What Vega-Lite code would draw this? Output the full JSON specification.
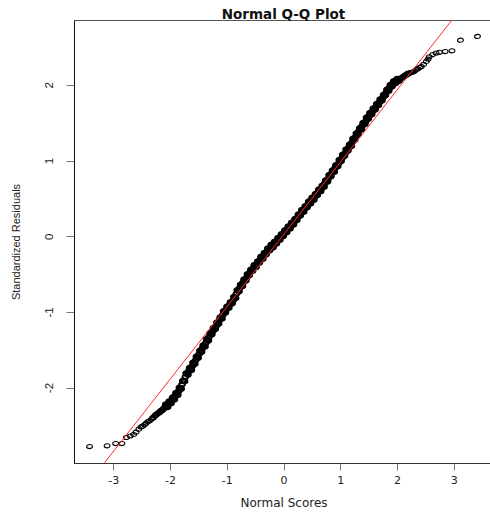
{
  "$schema": "https://vega.github.io/schema/vega-lite/v6.json",
  "width": 419,
  "height": 443,
  "autosize": {"type": "none"},
  "padding": {"left": 74, "top": 20, "right": 0, "bottom": 51},
  "background": "white",
  "title": {"text": "Normal Q-Q Plot", "font": "DejaVu Sans", "fontSize": 13.5, "fontWeight": "bold", "color": "#111", "anchor": "middle", "frame": "group", "offset": 1, "baseline": "alphabetic", "dy": 15},
  "config": {"view": {"stroke": "#555", "strokeWidth": 1}},
  "datasets": {
    "points": [
      {"score": -3.42, "resid": -2.78}, {"score": -3.11, "resid": -2.77}, {"score": -2.96, "resid": -2.74}, {"score": -2.85, "resid": -2.74},
      {"score": -2.77, "resid": -2.66}, {"score": -2.70, "resid": -2.64}, {"score": -2.64, "resid": -2.62}, {"score": -2.60, "resid": -2.59},
      {"score": -2.55, "resid": -2.55}, {"score": -2.51, "resid": -2.52}, {"score": -2.48, "resid": -2.51}, {"score": -2.45, "resid": -2.49},
      {"score": -2.42, "resid": -2.47}, {"score": -2.39, "resid": -2.45}, {"score": -2.36, "resid": -2.44}, {"score": -2.33, "resid": -2.42},
      {"score": -2.30, "resid": -2.40}, {"score": -2.26, "resid": -2.37}, {"score": -2.23, "resid": -2.35}, {"score": -2.19, "resid": -2.33},
      {"score": -2.165, "resid": -2.31}, {"score": -2.14, "resid": -2.30}, {"score": -2.115, "resid": -2.28},
      {"score": -2.09, "resid": -2.26}, {"score": -2.06, "resid": -2.24}, {"score": -2.03, "resid": -2.22}, {"score": -2.00, "resid": -2.19},
      {"score": -1.97, "resid": -2.17}, {"score": -1.94, "resid": -2.14}, {"score": -1.91, "resid": -2.11}, {"score": -1.88, "resid": -2.08},
      {"score": -1.85, "resid": -2.05}, {"score": -1.82, "resid": -2.01}, {"score": -1.79, "resid": -1.96}, {"score": -1.76, "resid": -1.91},
      {"score": -1.73, "resid": -1.86}, {"score": -1.70, "resid": -1.81}, {"score": -1.67, "resid": -1.78}, {"score": -1.64, "resid": -1.75},
      {"score": -1.61, "resid": -1.72}, {"score": -1.58, "resid": -1.68}, {"score": -1.55, "resid": -1.64}, {"score": -1.52, "resid": -1.60},
      {"score": -1.49, "resid": -1.56}, {"score": -1.46, "resid": -1.52}, {"score": -1.43, "resid": -1.48}, {"score": -1.40, "resid": -1.45},
      {"score": -1.37, "resid": -1.41}, {"score": -1.34, "resid": -1.37}, {"score": -1.31, "resid": -1.33}, {"score": -1.28, "resid": -1.29},
      {"score": -1.25, "resid": -1.26}, {"score": -1.22, "resid": -1.22}, {"score": -1.19, "resid": -1.19}, {"score": -1.16, "resid": -1.15},
      {"score": -1.13, "resid": -1.11}, {"score": -1.10, "resid": -1.08}, {"score": -1.07, "resid": -1.04}, {"score": -1.04, "resid": -1.00},
      {"score": -1.01, "resid": -0.97}, {"score": -0.98, "resid": -0.94}, {"score": -0.95, "resid": -0.91}, {"score": -0.92, "resid": -0.88},
      {"score": -0.89, "resid": -0.85}, {"score": -0.86, "resid": -0.81}, {"score": -0.83, "resid": -0.76}, {"score": -0.80, "resid": -0.72},
      {"score": -0.77, "resid": -0.68}, {"score": -0.74, "resid": -0.65}, {"score": -0.71, "resid": -0.61}, {"score": -0.68, "resid": -0.58},
      {"score": -0.65, "resid": -0.55}, {"score": -0.62, "resid": -0.51}, {"score": -0.59, "resid": -0.48}, {"score": -0.56, "resid": -0.45},
      {"score": -0.53, "resid": -0.42}, {"score": -0.50, "resid": -0.40}, {"score": -0.47, "resid": -0.37}, {"score": -0.44, "resid": -0.34},
      {"score": -0.41, "resid": -0.31}, {"score": -0.38, "resid": -0.28}, {"score": -0.35, "resid": -0.26}, {"score": -0.32, "resid": -0.23},
      {"score": -0.29, "resid": -0.20}, {"score": -0.26, "resid": -0.18}, {"score": -0.23, "resid": -0.15}, {"score": -0.20, "resid": -0.13},
      {"score": -0.17, "resid": -0.11}, {"score": -0.14, "resid": -0.08}, {"score": -0.11, "resid": -0.06}, {"score": -0.08, "resid": -0.03},
      {"score": -0.05, "resid": -0.01}, {"score": -0.02, "resid": 0.02}, {"score": 0.01, "resid": 0.04}, {"score": 0.04, "resid": 0.06},
      {"score": 0.07, "resid": 0.09}, {"score": 0.10, "resid": 0.11}, {"score": 0.13, "resid": 0.14}, {"score": 0.16, "resid": 0.17},
      {"score": 0.19, "resid": 0.19}, {"score": 0.22, "resid": 0.22}, {"score": 0.25, "resid": 0.25}, {"score": 0.28, "resid": 0.28},
      {"score": 0.31, "resid": 0.31}, {"score": 0.34, "resid": 0.33}, {"score": 0.37, "resid": 0.36}, {"score": 0.40, "resid": 0.39},
      {"score": 0.43, "resid": 0.42}, {"score": 0.46, "resid": 0.44}, {"score": 0.49, "resid": 0.47}, {"score": 0.52, "resid": 0.50},
      {"score": 0.55, "resid": 0.52}, {"score": 0.58, "resid": 0.55}, {"score": 0.61, "resid": 0.58}, {"score": 0.64, "resid": 0.61},
      {"score": 0.67, "resid": 0.63}, {"score": 0.70, "resid": 0.66}, {"score": 0.73, "resid": 0.70}, {"score": 0.76, "resid": 0.73},
      {"score": 0.79, "resid": 0.76}, {"score": 0.82, "resid": 0.80}, {"score": 0.85, "resid": 0.83}, {"score": 0.88, "resid": 0.86},
      {"score": 0.91, "resid": 0.90}, {"score": 0.94, "resid": 0.93}, {"score": 0.97, "resid": 0.96}, {"score": 1.00, "resid": 1.00},
      {"score": 1.03, "resid": 1.03}, {"score": 1.06, "resid": 1.07}, {"score": 1.09, "resid": 1.10}, {"score": 1.12, "resid": 1.14},
      {"score": 1.15, "resid": 1.17}, {"score": 1.18, "resid": 1.20}, {"score": 1.21, "resid": 1.24}, {"score": 1.24, "resid": 1.28},
      {"score": 1.27, "resid": 1.31}, {"score": 1.30, "resid": 1.35}, {"score": 1.33, "resid": 1.39}, {"score": 1.36, "resid": 1.42},
      {"score": 1.39, "resid": 1.46}, {"score": 1.42, "resid": 1.49}, {"score": 1.45, "resid": 1.52}, {"score": 1.48, "resid": 1.56},
      {"score": 1.51, "resid": 1.59}, {"score": 1.54, "resid": 1.62}, {"score": 1.57, "resid": 1.65}, {"score": 1.60, "resid": 1.68},
      {"score": 1.63, "resid": 1.71}, {"score": 1.66, "resid": 1.74}, {"score": 1.69, "resid": 1.77}, {"score": 1.72, "resid": 1.80},
      {"score": 1.75, "resid": 1.83}, {"score": 1.78, "resid": 1.86}, {"score": 1.81, "resid": 1.90}, {"score": 1.84, "resid": 1.93},
      {"score": 1.87, "resid": 1.96}, {"score": 1.90, "resid": 1.99}, {"score": 1.93, "resid": 2.02}, {"score": 1.96, "resid": 2.03},
      {"score": 1.99, "resid": 2.05}, {"score": 2.02, "resid": 2.06}, {"score": 2.05, "resid": 2.08}, {"score": 2.08, "resid": 2.09},
      {"score": 2.12, "resid": 2.11}, {"score": 2.14, "resid": 2.12}, {"score": 2.16, "resid": 2.13}, {"score": 2.18, "resid": 2.14},
      {"score": 2.20, "resid": 2.15}, {"score": 2.22, "resid": 2.155}, {"score": 2.24, "resid": 2.16}, {"score": 2.26, "resid": 2.165},
      {"score": 2.28, "resid": 2.17}, {"score": 2.31, "resid": 2.18}, {"score": 2.34, "resid": 2.20}, {"score": 2.37, "resid": 2.21},
      {"score": 2.40, "resid": 2.23}, {"score": 2.43, "resid": 2.24}, {"score": 2.47, "resid": 2.27}, {"score": 2.52, "resid": 2.31},
      {"score": 2.55, "resid": 2.34}, {"score": 2.57, "resid": 2.37}, {"score": 2.63, "resid": 2.40}, {"score": 2.69, "resid": 2.42},
      {"score": 2.75, "resid": 2.43}, {"score": 2.85, "resid": 2.44}, {"score": 2.97, "resid": 2.45}, {"score": 3.12, "resid": 2.59},
      {"score": 3.42, "resid": 2.64},
      {"score": -2.075, "resid": -2.22}, {"score": -2.045, "resid": -2.26}, {"score": -2.015, "resid": -2.18}, {"score": -1.985, "resid": -2.21},
      {"score": -1.955, "resid": -2.13}, {"score": -1.925, "resid": -2.16}, {"score": -1.895, "resid": -2.07}, {"score": -1.865, "resid": -2.10},
      {"score": -1.835, "resid": -2.00}, {"score": -1.805, "resid": -2.02}, {"score": -1.775, "resid": -1.91}, {"score": -1.745, "resid": -1.92},
      {"score": -1.715, "resid": -1.81}, {"score": -1.685, "resid": -1.83}, {"score": -1.655, "resid": -1.74}, {"score": -1.625, "resid": -1.77},
      {"score": -1.595, "resid": -1.67}, {"score": -1.565, "resid": -1.69}, {"score": -1.535, "resid": -1.59}, {"score": -1.505, "resid": -1.61},
      {"score": -1.475, "resid": -1.51}, {"score": -1.445, "resid": -1.53}, {"score": -1.415, "resid": -1.44}, {"score": -1.385, "resid": -1.46},
      {"score": -1.355, "resid": -1.36}, {"score": -1.325, "resid": -1.38}, {"score": -1.295, "resid": -1.28}, {"score": -1.265, "resid": -1.30},
      {"score": -1.235, "resid": -1.21}, {"score": -1.205, "resid": -1.23}, {"score": -1.175, "resid": -1.14}, {"score": -1.145, "resid": -1.16},
      {"score": -1.115, "resid": -1.07}, {"score": -1.085, "resid": -1.09}, {"score": -1.055, "resid": -0.99}, {"score": -1.025, "resid": -1.01},
      {"score": -0.995, "resid": -0.93}, {"score": -0.965, "resid": -0.95}, {"score": -0.935, "resid": -0.87}, {"score": -0.905, "resid": -0.89},
      {"score": -0.875, "resid": -0.80}, {"score": -0.845, "resid": -0.82}, {"score": -0.815, "resid": -0.71}, {"score": -0.785, "resid": -0.73},
      {"score": -0.755, "resid": -0.64}, {"score": -0.725, "resid": -0.66}, {"score": -0.695, "resid": -0.57}, {"score": -0.665, "resid": -0.59},
      {"score": -0.635, "resid": -0.50}, {"score": -0.605, "resid": -0.52}, {"score": -0.575, "resid": -0.44}, {"score": -0.545, "resid": -0.46},
      {"score": -0.515, "resid": -0.38}, {"score": -0.485, "resid": -0.41}, {"score": -0.455, "resid": -0.33}, {"score": -0.425, "resid": -0.35},
      {"score": -0.395, "resid": -0.27}, {"score": -0.365, "resid": -0.30}, {"score": -0.335, "resid": -0.22}, {"score": -0.305, "resid": -0.24},
      {"score": -0.275, "resid": -0.16}, {"score": -0.245, "resid": -0.19}, {"score": -0.215, "resid": -0.11}, {"score": -0.185, "resid": -0.15},
      {"score": -0.155, "resid": -0.07}, {"score": -0.125, "resid": -0.10}, {"score": -0.095, "resid": -0.02}, {"score": -0.065, "resid": -0.05},
      {"score": -0.035, "resid": 0.03}, {"score": -0.005, "resid": 0.00}, {"score": 0.025, "resid": 0.08}, {"score": 0.055, "resid": 0.05},
      {"score": 0.085, "resid": 0.13}, {"score": 0.115, "resid": 0.10}, {"score": 0.145, "resid": 0.18}, {"score": 0.175, "resid": 0.15},
      {"score": 0.205, "resid": 0.23}, {"score": 0.235, "resid": 0.21}, {"score": 0.265, "resid": 0.29}, {"score": 0.295, "resid": 0.27},
      {"score": 0.325, "resid": 0.35}, {"score": 0.355, "resid": 0.32}, {"score": 0.385, "resid": 0.40}, {"score": 0.415, "resid": 0.38},
      {"score": 0.445, "resid": 0.46}, {"score": 0.475, "resid": 0.43}, {"score": 0.505, "resid": 0.51}, {"score": 0.535, "resid": 0.48},
      {"score": 0.565, "resid": 0.56}, {"score": 0.595, "resid": 0.54}, {"score": 0.625, "resid": 0.62}, {"score": 0.655, "resid": 0.59},
      {"score": 0.685, "resid": 0.67}, {"score": 0.715, "resid": 0.65}, {"score": 0.745, "resid": 0.74}, {"score": 0.775, "resid": 0.72},
      {"score": 0.805, "resid": 0.81}, {"score": 0.835, "resid": 0.79}, {"score": 0.865, "resid": 0.87}, {"score": 0.895, "resid": 0.85},
      {"score": 0.925, "resid": 0.94}, {"score": 0.955, "resid": 0.92}, {"score": 0.985, "resid": 1.01}, {"score": 1.015, "resid": 0.99},
      {"score": 1.045, "resid": 1.08}, {"score": 1.075, "resid": 1.06}, {"score": 1.105, "resid": 1.15}, {"score": 1.135, "resid": 1.13},
      {"score": 1.165, "resid": 1.21}, {"score": 1.195, "resid": 1.19}, {"score": 1.225, "resid": 1.29}, {"score": 1.255, "resid": 1.27},
      {"score": 1.285, "resid": 1.36}, {"score": 1.315, "resid": 1.34}, {"score": 1.345, "resid": 1.43}, {"score": 1.375, "resid": 1.41},
      {"score": 1.405, "resid": 1.50}, {"score": 1.435, "resid": 1.48}, {"score": 1.465, "resid": 1.57}, {"score": 1.495, "resid": 1.55},
      {"score": 1.525, "resid": 1.63}, {"score": 1.555, "resid": 1.61}, {"score": 1.585, "resid": 1.69}, {"score": 1.615, "resid": 1.67},
      {"score": 1.645, "resid": 1.75}, {"score": 1.675, "resid": 1.73}, {"score": 1.705, "resid": 1.81}, {"score": 1.735, "resid": 1.79},
      {"score": 1.765, "resid": 1.87}, {"score": 1.795, "resid": 1.86}, {"score": 1.825, "resid": 1.94}, {"score": 1.855, "resid": 1.92},
      {"score": 1.885, "resid": 2.00}, {"score": 1.915, "resid": 1.98}, {"score": 1.945, "resid": 2.05}, {"score": 1.975, "resid": 2.02},
      {"score": 2.005, "resid": 2.08}, {"score": 2.035, "resid": 2.05}
    ],
    "qqline": [
      {"score": -3.159, "resid": -2.997},
      {"score": 2.971, "resid": 2.857}
    ]
  },
  "encoding": {
    "x": {"field": "score", "type": "quantitative", "scale": {"domain": [-3.694, 3.694], "nice": false, "zero": false},
      "axis": {"values": [-3, -2, -1, 0, 1, 2, 3], "title": "Normal Scores", "grid": false, "tickSize": 7, "tickColor": "#777", "domainColor": "#333",
        "labelFont": "DejaVu Sans", "labelFontSize": 11, "labelColor": "#222", "labelPadding": 4, "labelFlush": false, "labelExpr": "'' + datum.value",
        "titleFont": "DejaVu Sans", "titleFontSize": 12, "titleFontWeight": "normal", "titleColor": "#222", "titlePadding": 12}},
    "y": {"field": "resid", "type": "quantitative", "scale": {"domain": [-2.997, 2.857], "nice": false, "zero": false},
      "axis": {"values": [-2, -1, 0, 1, 2], "title": "Standardized Residuals", "grid": false, "tickSize": 8, "tickColor": "#777", "domainColor": "#111",
        "labelFont": "Liberation Sans", "labelFontSize": 11.5, "labelColor": "#222", "labelAngle": -90, "labelAlign": "center", "labelBaseline": "bottom", "labelPadding": 12, "labelFlush": false, "labelExpr": "'' + datum.value",
        "titleFont": "Liberation Sans", "titleFontSize": 11, "titleFontWeight": "normal", "titleColor": "#222", "titlePadding": 22}}
  },
  "layer": [
    {
      "data": {"name": "points"},
      "transform": [{"filter": "datum.score < -2.3 || datum.score > 2.2"}],
      "mark": {"type": "point", "shape": "M-1,0A1,0.7,0,1,0,1,0A1,0.7,0,1,0,-1,0Z", "size": 34, "filled": false, "color": "black", "strokeWidth": 1.1, "opacity": 1}
    },
    {
      "data": {"name": "points"},
      "transform": [{"filter": "datum.score >= -2.3 && datum.score <= 2.2"}],
      "mark": {"type": "point", "shape": "M-1,0A1,0.7,0,1,0,1,0A1,0.7,0,1,0,-1,0Z", "size": 34, "filled": false, "color": "black", "strokeWidth": 2, "opacity": 1}
    },
    {
      "data": {"name": "qqline"},
      "mark": {"type": "line", "color": "#ff2a2a", "strokeWidth": 1}
    }
  ]
}
